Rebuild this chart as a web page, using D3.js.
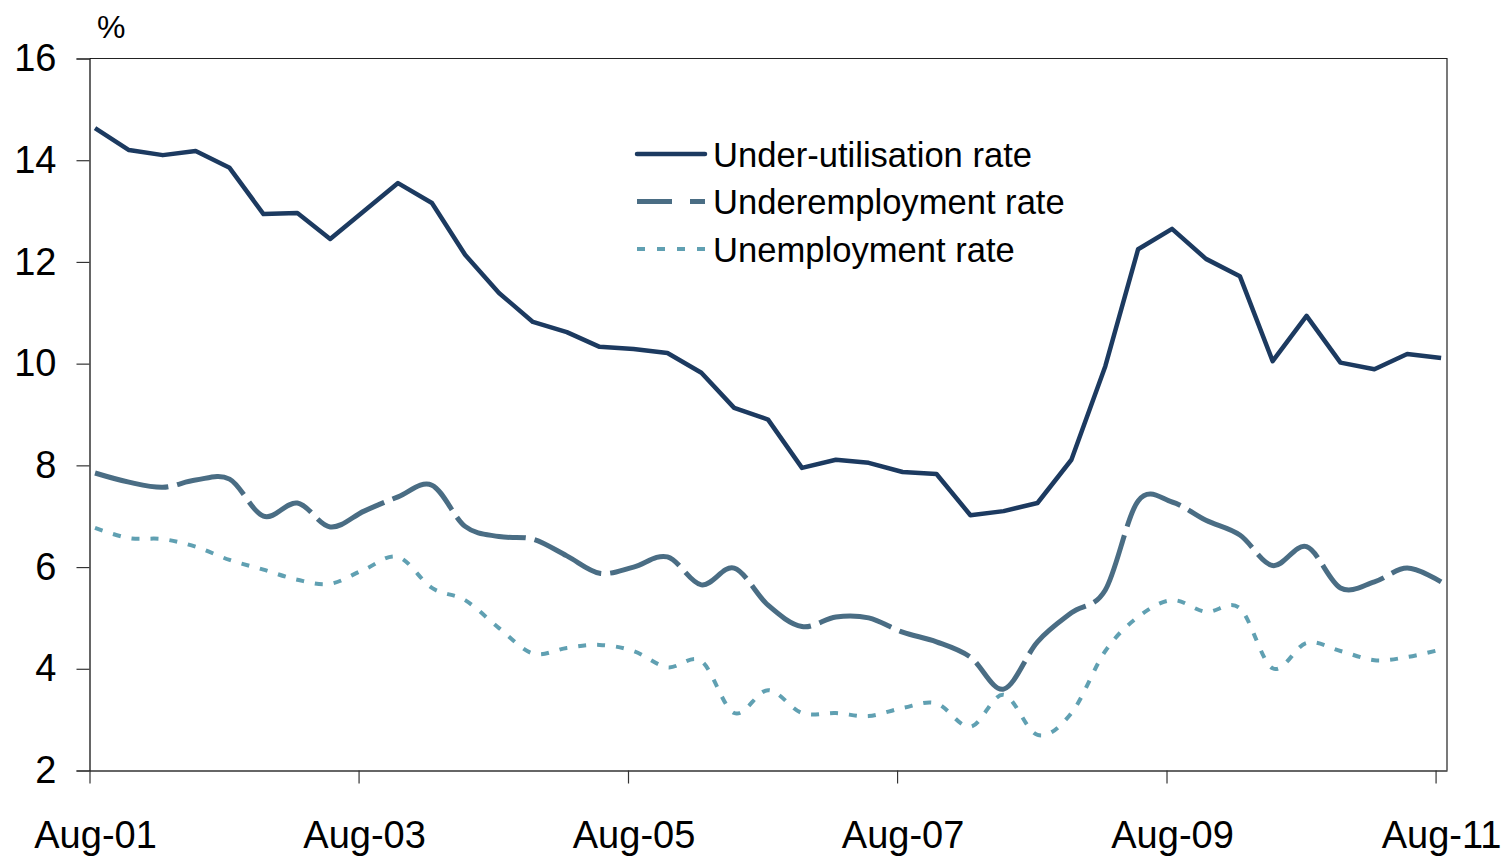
<!DOCTYPE html>
<html>
<head>
<meta charset="utf-8">
<script src="https://cdn.jsdelivr.net/npm/d3@7"></script>
<style>
  html, body { margin: 0; padding: 0; background: #fff; }
  svg { display: block; font-family: "Liberation Sans", Arial, sans-serif; }
</style>
</head>
<body>
<svg id="chart" width="1509" height="859"></svg>
<script>
const categories = ["Aug-01","Nov-01","Feb-02","May-02","Aug-02","Nov-02","Feb-03","May-03","Aug-03","Nov-03",
  "Feb-04","May-04","Aug-04","Nov-04","Feb-05","May-05","Aug-05","Nov-05","Feb-06","May-06",
  "Aug-06","Nov-06","Feb-07","May-07","Aug-07","Nov-07","Feb-08","May-08","Aug-08","Nov-08",
  "Feb-09","May-09","Aug-09","Nov-09","Feb-10","May-10","Aug-10","Nov-10","Feb-11","May-11","Aug-11"];

const underUtilisation = [14.63,14.20,14.10,14.18,13.85,12.94,12.96,12.45,13.0,13.55,
  13.16,12.14,11.39,10.82,10.62,10.33,10.29,10.21,9.82,9.13,
  8.90,7.95,8.11,8.05,7.87,7.83,7.02,7.10,7.26,8.11,
  9.95,12.25,12.65,12.06,11.72,10.05,10.94,10.02,9.89,10.19,10.11];

const underemployment = [7.85,7.67,7.57,7.71,7.73,7.0,7.26,6.79,7.1,7.38,
  7.61,6.8,6.6,6.55,6.22,5.88,6.0,6.2,5.65,5.98,
  5.25,4.83,5.02,5.0,4.72,4.53,4.23,3.6,4.53,5.1,
  5.55,7.3,7.28,6.92,6.63,6.03,6.4,5.59,5.71,5.98,5.71];

const unemployment = [6.77,6.57,6.55,6.4,6.14,5.95,5.75,5.67,5.95,6.2,
  5.59,5.35,4.8,4.3,4.41,4.47,4.35,4.03,4.15,3.13,
  3.58,3.13,3.13,3.07,3.23,3.32,2.86,3.49,2.7,3.13,
  4.35,5.02,5.35,5.12,5.19,4.01,4.51,4.35,4.17,4.23,4.38];

const xTickLabels = ["Aug-01","Aug-03","Aug-05","Aug-07","Aug-09","Aug-11"];
const yTicks = [2,4,6,8,10,12,14,16];
const seriesNames = ["Under-utilisation rate","Underemployment rate","Unemployment rate"];

const parse = d3.timeParse("%b-%y");
const svg = d3.select("#chart");

const pLeft = 89.5, pRight = 1447, pTop = 58.5, pBottom = 770.5;

const x = d3.scaleTime()
  .domain([parse("Aug-01"), parse("Sep-11")])
  .range([pLeft, pRight]);
const y = d3.scaleLinear().domain([2, 16]).range([pBottom, pTop]);

const mid = d => d3.timeDay.offset(parse(d), 15);

// frame (top & right)
svg.append("path")
  .attr("d", `M${pLeft},${pTop}H${pRight}V${pBottom}`)
  .attr("fill", "none").attr("stroke", "#222").attr("stroke-width", 1.2);

// Y axis
const yAxis = svg.append("g")
  .attr("transform", `translate(${pLeft},0)`)
  .call(d3.axisLeft(y).tickValues(yTicks).tickSize(13).tickPadding(20).tickFormat(d3.format("d")));
yAxis.select(".domain").attr("stroke", "#000").attr("stroke-width", 1.2);
yAxis.selectAll(".tick line").attr("stroke", "#333").attr("stroke-width", 1.2);
yAxis.selectAll(".tick text").attr("font-size", 38).attr("fill", "#000")
  .attr("font-family", "Liberation Sans, Arial, sans-serif");

// X axis
const xAxis = svg.append("g")
  .attr("transform", `translate(0,${pBottom})`)
  .call(d3.axisBottom(x).tickValues(xTickLabels.map(parse)).tickSize(13).tickSizeOuter(0)
        .tickFormat(d3.timeFormat("%b-%y")));
xAxis.select(".domain").attr("stroke", "#333").attr("stroke-width", 1.6);
xAxis.selectAll(".tick line").attr("stroke", "#333").attr("stroke-width", 1.2);
xAxis.selectAll(".tick text").attr("font-size", 38).attr("fill", "#000")
  .attr("font-family", "Liberation Sans, Arial, sans-serif")
  .attr("dy", null).attr("y", 77)
  .attr("x", d => x(d3.timeDay.offset(d, 15)) - x(d));

// % label
svg.append("text").attr("x", 97).attr("y", 38).attr("font-size", 32).text("%");

// lines
const straight = d3.line().x((d, i) => x(mid(categories[i]))).y(d => y(d));
const smooth = d3.line().x((d, i) => x(mid(categories[i]))).y(d => y(d)).curve(d3.curveCardinal.tension(0));

const styles = [
  { data: underUtilisation, gen: straight, color: "#1c3a60", width: 4.5, dash: null },
  { data: underemployment, gen: smooth, color: "#4a6d84", width: 5, dash: "75 9" },
  { data: unemployment, gen: smooth, color: "#60a0b2", width: 4, dash: "8 11" }
];

styles.forEach(s => {
  svg.append("path")
    .attr("d", s.gen(s.data))
    .attr("fill", "none")
    .attr("stroke", s.color)
    .attr("stroke-width", s.width)
    .attr("stroke-linejoin", "round")
    .attr("stroke-dasharray", s.dash);
});

// legend
const legendDash = [null, "35 18", "8 12"];
const lg = svg.append("g");
seriesNames.forEach((name, i) => {
  const yy = 154 + i * 47.5;
  lg.append("line")
    .attr("x1", 637).attr("x2", 705).attr("y1", yy).attr("y2", yy)
    .attr("stroke", styles[i].color).attr("stroke-width", styles[i].width)
    .attr("stroke-linecap", i === 0 ? "round" : "butt")
    .attr("stroke-dasharray", legendDash[i]);
  lg.append("text").attr("x", 713).attr("y", yy + 12.5).attr("font-size", 34.6)
    .attr("fill", "#000").text(name);
});
</script>
</body>
</html>
